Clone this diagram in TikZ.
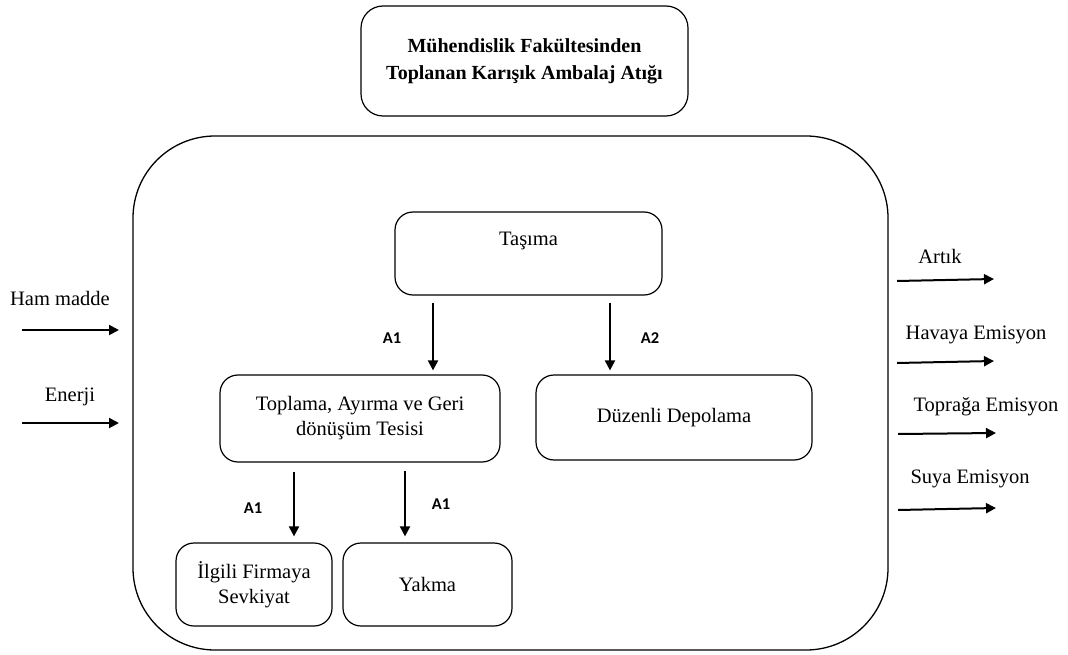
\documentclass[tikz,border=0pt]{standalone}
\usepackage{fontspec}
\setmainfont{Liberation Serif}
\newfontfamily\lblfont{Carlito}
\usetikzlibrary{arrows.meta,calc}
\begin{document}
\begin{tikzpicture}[x=1pt,y=-1pt,
  box/.style={draw, line width=1.2pt, rounded corners=18pt, align=center, inner sep=0pt,
    font=\fontsize{20.5}{25}\selectfont},
  arr/.style={line width=2pt, -{Triangle[length=10pt,width=10pt]}},
  lbl/.style={font=\lblfont\bfseries\fontsize{16.5}{18}\selectfont},
  txt/.style={font=\fontsize{20.5}{25}\selectfont}]
\useasboundingbox (0,0) rectangle (1068,655);
% outer frame
\draw[line width=1.3pt, rounded corners=82pt] (133,136) rectangle (888,650);
% title
\node[box, rounded corners=22pt, minimum width=327pt, minimum height=110pt,
  font=\bfseries\fontsize{20}{27}\selectfont] (title) at (524.5,61)
  {Mühendislik Fakültesinden\\Toplanan Karışık Ambalaj Atığı};
% process boxes
\node[box, minimum width=267pt, minimum height=83pt] (tas) at (528.5,253.5) {};
\node[txt] (tastxt) at (528.5,241) {Taşıma};
\node[box, minimum width=280pt, minimum height=87pt] (top) at (360,418.5)
  {Toplama, Ayırma ve Geri\\dönüşüm Tesisi};
\node[box, minimum width=276pt, minimum height=85pt] (duz) at (674,417.5)
  {Düzenli Depolama};
\node[box, minimum width=156pt, minimum height=83pt] (ilg) at (254,584.5)
  {İlgili Firmaya\\Sevkiyat};
\node[box, minimum width=169pt, minimum height=83pt] (yak) at (427.5,584.5)
  {Yakma};
% internal arrows
\coordinate (xa) at (433,0);
\coordinate (xb) at (610,0);
\coordinate (xc) at (294,0);
\coordinate (xd) at (405,0);
\draw[arr, shorten <=7pt, shorten >=4pt] (tas.south -| xa) -- (top.north -| xa);
\draw[arr, shorten <=7pt, shorten >=4pt] (tas.south -| xb) -- (duz.north -| xb);
\draw[arr, shorten <=9pt, shorten >=6pt] (top.south -| xc) -- (ilg.north -| xc);
\draw[arr, shorten <=8pt, shorten >=6pt] (top.south -| xd) -- (yak.north -| xd);
\node[lbl] (la) at (392,338) {A1};
\node[lbl] (lb) at (650,338) {A2};
\node[lbl] (lc) at (253,508) {A1};
\node[lbl] (ld) at (441,504) {A1};
% inputs
\node[txt] (ham) at (60,298) {Ham madde};
\node[txt] (ene) at (70,397) {Enerji};
\coordinate (h1) at (22,330); \coordinate (h2) at (119,330);
\coordinate (e1) at (22,423); \coordinate (e2) at (119,423);
\draw[arr] (h1) -- (h2);
\draw[arr] (e1) -- (e2);
% outputs
\node[txt] (art) at (940,256) {Artık};
\node[txt] (hav) at (976,335) {Havaya Emisyon};
\node[txt] (tpr) at (986,407) {Toprağa Emisyon};
\node[txt] (suy) at (970,479) {Suya Emisyon};
\coordinate (o1a) at (897,281); \coordinate (o1b) at (994,279);
\coordinate (o2a) at (897,363); \coordinate (o2b) at (994,361);
\coordinate (o3a) at (898,434); \coordinate (o3b) at (996,433);
\coordinate (o4a) at (898,510); \coordinate (o4b) at (996,508);
\draw[arr] (o1a) -- (o1b);
\draw[arr] (o2a) -- (o2b);
\draw[arr] (o3a) -- (o3b);
\draw[arr] (o4a) -- (o4b);
\end{tikzpicture}
\end{document}
